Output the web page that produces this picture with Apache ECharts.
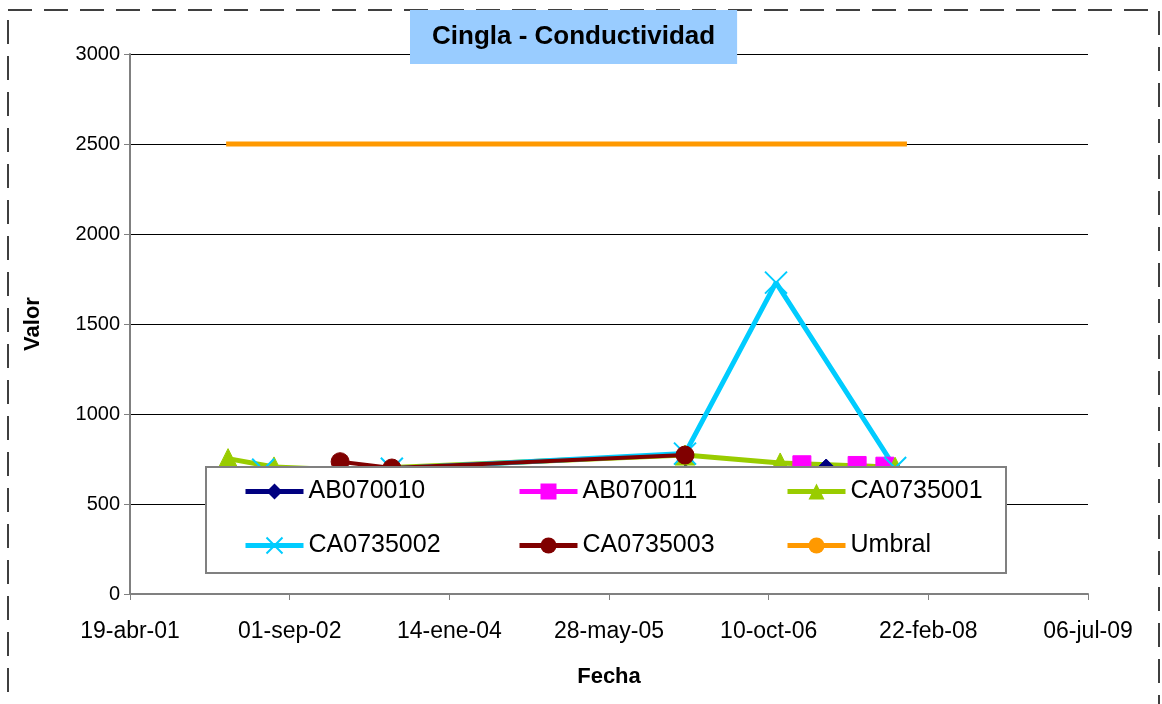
<!DOCTYPE html>
<html>
<head>
<meta charset="UTF-8">
<title>Cingla - Conductividad</title>
<style type="text/css">
   html, body{
      margin:0;
      padding:0;
      background-color:#ffffff;
   }
   #container{
      width:1162px;
      height:704px;
   }
</style>
</head>
<body>
<div id="container"></div>
<script src="https://cdn.jsdelivr.net/npm/echarts@6/dist/echarts.min.js"></script>
<script type="text/javascript">
// fechas como numero de serie de Excel (37000 = 19-abr-01)
var xTicks = [37000, 37500, 38000, 38500, 39000, 39500, 40000];
var yTicks = [0, 500, 1000, 1500, 2000, 2500, 3000];
var meses = ['ene','feb','mar','abr','may','jun','jul','ago','sep','oct','nov','dic'];

var ab070010 = [[37450, 640], [37820, 650], [38740, 670], [39180, 700], [39400, 680]];
var ab070011 = [[39104, 718], [39277, 714], [39364, 710]];
var ca0735001 = [[37307, 752], [37451, 706], [37658, 690], [38738, 772], [39036, 728], [39396, 704]];
var ca0735002 = [[37417, 690], [37820, 696], [38738, 780], [39023, 1730], [39396, 700]];
var ca0735003 = [[37658, 735], [37820, 700], [38738, 772]];
var umbral = [[37301, 2500], [39433, 2500]];

// columnas de la leyenda
var legendCols = [['AB070010', 'CA0735002'], ['AB070011', 'CA0735003'], ['CA0735001', 'Umbral']];
var legendLeft = [243, 517, 785];

function fecha(v){
   var d = new Date(Date.UTC(1899, 11, 30) + v * 86400000);
   var dd = ('0' + d.getUTCDate()).slice(-2);
   var yy = ('0' + (d.getUTCFullYear() % 100)).slice(-2);
   return dd + '-' + meses[d.getUTCMonth()] + '-' + yy;
}

var dom = document.getElementById("container");
var myChart = echarts.init(dom);
var font = 'Liberation Sans, Arial, sans-serif';

function serie(name, data, color, width, symbol, size){
   return {
      name: name,
      type: 'line',
      data: data,
      symbol: symbol,
      symbolSize: size,
      showSymbol: symbol != 'none',
      lineStyle: { color: color, width: width },
      itemStyle: { color: color, borderColor: color },
      emphasis: { disabled: true },
      animation: false
   };
}

var legends = [];
for (var i = 0; i < legendCols.length; i++) {
   legends.push({
      orient: 'vertical',
      left: legendLeft[i],
      top: 479,
      padding: 0,
      itemGap: 29,
      itemWidth: 58,
      itemHeight: 20,
      z: 5,
      lineStyle: { width: 5 },
      textStyle: { fontFamily: font, fontSize: 25, lineHeight: 25, color: '#000' },
      data: legendCols[i]
   });
}

var option = {
   backgroundColor: '#ffffff',
   textStyle: { fontFamily: font },
   title: {
      text: 'Cingla - Conductividad',
      left: 410,
      top: 10,
      padding: [14, 22, 14, 22],
      backgroundColor: '#99CCFF',
      textStyle: { fontFamily: font, fontSize: 26, fontWeight: 'bold', color: '#000' }
   },
   grid: { left: 130, right: 74, top: 54, bottom: 110 },
   legend: legends,
   xAxis: {
      type: 'value',
      min: xTicks[0],
      max: xTicks[xTicks.length - 1],
      interval: 500,
      name: 'Fecha',
      nameLocation: 'middle',
      nameGap: 72,
      nameTextStyle: { fontFamily: font, fontSize: 22, fontWeight: 'bold', color: '#000' },
      axisLine: { show: true, lineStyle: { color: '#808080', width: 2 } },
      axisTick: { show: true, inside: false, length: 6, lineStyle: { color: '#808080' } },
      axisLabel: {
         fontFamily: font, fontSize: 23, color: '#000', margin: 26,
         formatter: function(v){ return fecha(v); }
      },
      splitLine: { show: false }
   },
   yAxis: {
      type: 'value',
      min: yTicks[0],
      max: yTicks[yTicks.length - 1],
      interval: 500,
      name: 'Valor',
      nameLocation: 'middle',
      nameRotate: 90,
      nameGap: 86,
      nameTextStyle: { fontFamily: font, fontSize: 22, fontWeight: 'bold', color: '#000' },
      axisLine: { show: true, lineStyle: { color: '#808080', width: 2 } },
      axisTick: { show: true, inside: false, length: 6, lineStyle: { color: '#808080' } },
      axisLabel: {
         fontFamily: font, fontSize: 20, color: '#000', margin: 10,
         formatter: function(v){ return String(v); }
      },
      splitLine: { show: true, lineStyle: { color: '#000', width: 1 } }
   },
   graphic: [
      {
         type: 'rect',
         silent: true,
         z: 3,
         shape: { x: 8, y: 10, width: 1151, height: 720 },
         style: { fill: null, stroke: '#000', lineWidth: 1.5, lineDash: [24, 12] }
      },
      {
         // caja de la leyenda
         type: 'rect',
         silent: true,
         z: 4,
         shape: { x: 206, y: 467, width: 800, height: 106 },
         style: { fill: '#ffffff', stroke: '#808080', lineWidth: 2 }
      }
   ],
   series: [
      serie('AB070010', ab070010, '#000080', 4, 'diamond', 18),
      serie('AB070011', ab070011, '#FF00FF', 4, 'rect', 18),
      serie('CA0735001', ca0735001, '#99CC00', 5, 'triangle', 20),
      serie('CA0735002', ca0735002, '#00CCFF', 5, 'path://M0,0 L10,10 M10,0 L0,10', 22),
      serie('CA0735003', ca0735003, '#800000', 4, 'circle', 18),
      serie('Umbral', umbral, '#FF9900', 5, 'none', 0)
   ]
};

// marcador en X: trazo en lugar de relleno
option.series[3].itemStyle = { color: '#00CCFF', borderColor: '#00CCFF', borderWidth: 2 };

myChart.setOption(option, true);
</script>
</body>
</html>
